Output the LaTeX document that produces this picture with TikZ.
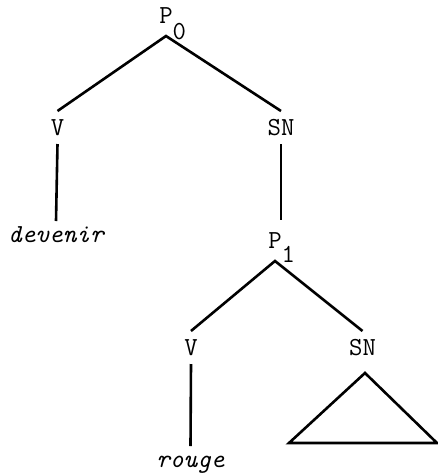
\documentclass[tikz,border=0pt]{standalone}
\usepackage{tikz}

\tikzset{
  cat/.style={font=\ttfamily\fontsize{26}{26}\selectfont, anchor=base, inner sep=0pt,
    outer sep=9pt, text height=15pt, text depth=0pt},
  phrase/.style={cat, outer sep=13pt},
  word/.style={cat, font=\ttfamily\itshape\fontsize{26}{26}\selectfont, outer sep=6pt},
  branch/.style={line width=2.6pt}
}

\begin{document}
\begin{tikzpicture}[x=1pt, y=-1pt]
        \useasboundingbox (0,0) rectangle (438,475);

        % Top level
        \node[phrase] (p0) at (166,23) {P\rlap{\raisebox{-16pt}{0}}};
        \node[cat] (v0) at (57.5,135) {V};
        \node[cat] (sn0) at (281,135) {SN};
        \node[word] (devenir) at (56,242) {devenir};

        % Embedded clause
        \node[phrase] (p1) at (275,248) {P\rlap{\raisebox{-14pt}{1}}};
        \node[cat] (v1) at (191,355) {V};
        \node[cat] (sn1) at (362.5,355) {SN};
        \node[word] (rouge) at (190.5,467) {rouge};

        % Branches
        \draw[branch] (v0.north) -- (p0.south) -- (sn0.north);
        \draw[branch] (v0.south) -- (devenir.north);
        \draw[branch] (sn0.south) -- (sn0.south |- p1.north);
        \draw[branch] (v1.north) -- (p1.south) -- (sn1.north);
        \draw[branch] (v1.south) -- (rouge.north);

        % Triangle under SN
        \draw[branch, line join=miter] ([xshift=2.5pt, yshift=-9pt]sn1.south) -- ++(-76,70) -- ++(148,0) -- cycle;
\end{tikzpicture}
\end{document}
